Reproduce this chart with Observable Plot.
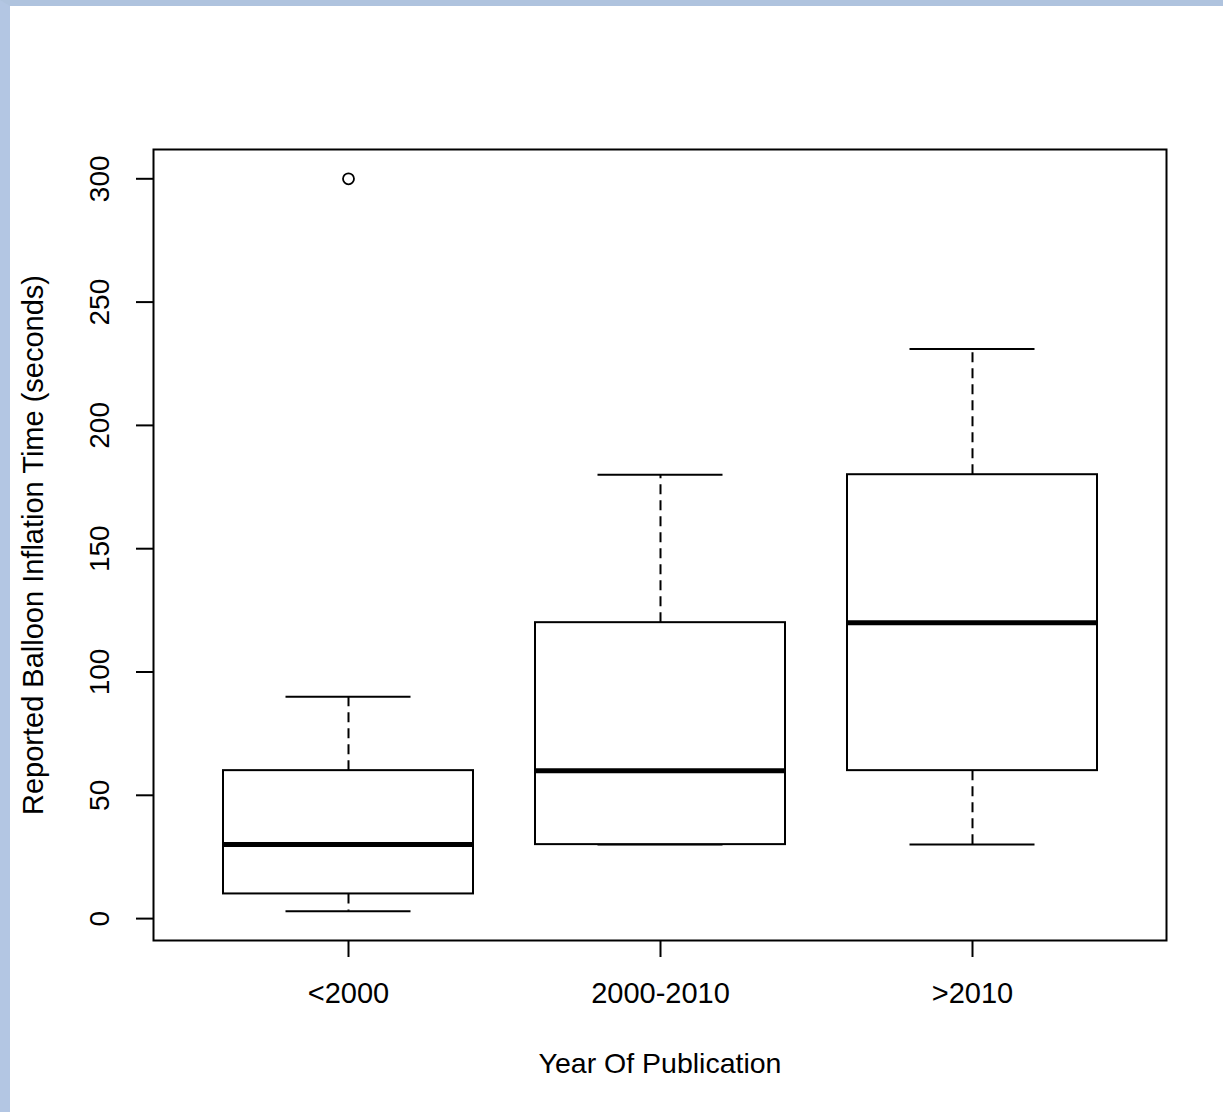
<!DOCTYPE html>
<html>
<head>
<meta charset="utf-8">
<script src="https://cdn.jsdelivr.net/npm/d3@7"></script>
<script src="https://cdn.jsdelivr.net/npm/@observablehq/plot@0.6"></script>
<style>
  html, body { margin: 0; padding: 0; background: #ffffff; }
  body { width: 1213px; height: 1106px; border-left: 10px solid #b3c6e3; border-top: 6px solid #afc3de; overflow: hidden; }
  #chart svg { display: block; }
</style>
</head>
<body>
<div id="chart"></div>
<script>
// ---- Data ----
const categories = ["<2000", "2000-2010", ">2010"];
const lowerWhisker = [3, 30, 30];
const q1 = [10, 30, 60];
const median = [30, 60, 120];
const q3 = [60, 120, 180];
const upperWhisker = [90, 180, 231];
const outlierCategories = ["<2000"];
const outlierValues = [300];
const yTicks = [0, 50, 100, 150, 200, 250, 300];
const xTitle = "Year Of Publication";
const yTitle = "Reported Balloon Inflation Time (seconds)";

const boxes = categories.map((c, i) => ({
  cat: c, lo: lowerWhisker[i], q1: q1[i], med: median[i], q3: q3[i], hi: upperWhisker[i]
}));
const outliers = outlierCategories.map((c, i) => ({cat: c, value: outlierValues[i]}));

// R-style 4% extension of the data range
const yMin = d3.min([...lowerWhisker, ...outlierValues]);
const yMax = d3.max([...upperWhisker, ...outlierValues]);
const ext = (yMax - yMin) * 0.04;

const font = "'Liberation Sans', Arial, sans-serif";
const lw = 2;

const chart = Plot.plot({
  width: 1213,
  height: 1106,
  marginLeft: 143,
  marginRight: 57,
  marginTop: 143,
  marginBottom: 172,
  style: {fontFamily: font, fontSize: "28px", color: "#000", background: "#fff"},
  x: {domain: categories, paddingInner: 0.2, paddingOuter: 0.22, axis: null},
  y: {domain: [yMin - ext, yMax + ext], axis: null},
  marks: [
    // whiskers (dashed)
    Plot.ruleX(boxes, {x: "cat", y1: "q3", y2: "hi", stroke: "#000", strokeWidth: lw, strokeDasharray: "10,6"}),
    Plot.ruleX(boxes, {x: "cat", y1: "q1", y2: "lo", stroke: "#000", strokeWidth: lw, strokeDasharray: "10,6"}),
    // whisker caps
    Plot.tickY(boxes, {x: "cat", y: "hi", stroke: "#000", strokeWidth: lw, insetLeft: 62.5, insetRight: 62.5}),
    Plot.tickY(boxes, {x: "cat", y: "lo", stroke: "#000", strokeWidth: lw, insetLeft: 62.5, insetRight: 62.5}),
    // boxes
    Plot.barY(boxes, {x: "cat", y1: "q1", y2: "q3", fill: "#fff", stroke: "#000", strokeWidth: lw}),
    // medians
    Plot.tickY(boxes, {x: "cat", y: "med", stroke: "#000", strokeWidth: 5}),
    // outliers
    Plot.dot(outliers, {x: "cat", y: "value", r: 5.5, stroke: "#000", strokeWidth: 1.8, fill: "none"}),
    // frame
    Plot.frame({stroke: "#000", strokeWidth: lw}),
    // axes (ticks)
    Plot.axisY({ticks: yTicks, tickSize: 17, tickFormat: () => "", stroke: "#000", strokeWidth: lw, label: null}),
    Plot.axisX({tickSize: 17, tickFormat: () => "", stroke: "#000", strokeWidth: lw, label: null}),
    // y tick labels (rotated like R's default)
    Plot.text(yTicks, {y: d => d, text: d => String(d), frameAnchor: "left", dx: -53, rotate: -90,
      textAnchor: "middle", lineAnchor: "middle", fontSize: 28, fill: "#000"}),
    // x tick labels
    Plot.text(categories, {x: d => d, text: d => d, frameAnchor: "bottom", dy: 53,
      textAnchor: "middle", lineAnchor: "middle", fontSize: 29, fill: "#000"}),
    // axis titles
    Plot.text([xTitle], {text: d => d, frameAnchor: "bottom", dy: 123, textAnchor: "middle", lineAnchor: "middle", fontSize: 28.5, fill: "#000"}),
    Plot.text([yTitle], {text: d => d, frameAnchor: "left", dx: -120, rotate: -90, textAnchor: "middle", lineAnchor: "middle", fontSize: 29, fill: "#000"})
  ]
});
document.getElementById("chart").appendChild(chart);
</script>
</body>
</html>
